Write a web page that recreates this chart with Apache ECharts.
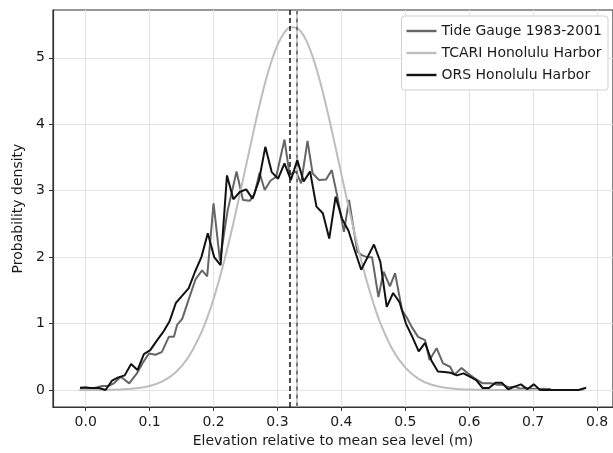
<!DOCTYPE html>
<html><head><meta charset="utf-8">
<script src="https://cdn.jsdelivr.net/npm/echarts@6/dist/echarts.min.js"></script>
<style>html,body{margin:0;padding:0;background:#fff}#c{width:613px;height:453px}</style>
</head><body><div id="c"></div>
<script>
// ---- data ----
const xTicks = [0.0,0.1,0.2,0.3,0.4,0.5,0.6,0.7,0.8];
const yTicks = [0,1,2,3,4,5];

// Tide Gauge 1983-2001 (x, density)
const gaugeX = [-0.009,0.0,0.009,0.018,0.026,0.035,0.044,0.055,0.068,0.08,0.09,0.099,0.109,0.119,0.13,0.138,0.143,0.151,0.161,0.172,0.182,0.19,0.2,0.21,0.222,0.236,0.246,0.257,0.264,0.272,0.28,0.289,0.298,0.311,0.319,0.329,0.337,0.347,0.355,0.365,0.376,0.385,0.394,0.404,0.412,0.425,0.432,0.44,0.448,0.458,0.466,0.476,0.484,0.495,0.503,0.51,0.52,0.531,0.538,0.549,0.559,0.57,0.577,0.588,0.598,0.608,0.621,0.634,0.644,0.653,0.662,0.671,0.68,0.689,0.698,0.707,0.716,0.728];
const gaugeY = [0.03,0.04,0.02,0.04,0.06,0.06,0.1,0.2,0.1,0.25,0.42,0.55,0.53,0.57,0.8,0.8,0.98,1.07,1.36,1.67,1.8,1.71,2.81,1.95,2.7,3.29,2.86,2.85,2.95,3.27,3.01,3.15,3.21,3.77,3.24,3.29,3.11,3.75,3.26,3.16,3.17,3.31,2.9,2.38,2.86,2.08,2.03,2.0,2.0,1.4,1.78,1.56,1.76,1.2,1.08,0.95,0.8,0.75,0.45,0.63,0.4,0.35,0.23,0.33,0.25,0.18,0.1,0.1,0.08,0.08,0.04,0.05,0.02,0.03,0.02,0.01,0.02,0.01];

// TCARI Honolulu Harbor
const tcariX = [-0.01,0.02,0.04,0.06,0.08,0.10,0.12,0.14,0.16,0.18,0.19,0.20,0.21,0.22,0.23,0.24,0.25,0.26,0.27,0.28,0.29,0.30,0.31,0.32,0.33,0.34,0.35,0.36,0.37,0.38,0.39,0.40,0.41,0.42,0.43,0.44,0.45,0.46,0.48,0.50,0.52,0.54,0.56,0.58,0.60,0.62,0.66,0.70,0.74,0.78];
const tcariY = [0,0,0.004,0.01,0.026,0.06,0.129,0.259,0.485,0.845,1.085,1.37,1.70,2.07,2.47,2.90,3.34,3.78,4.21,4.60,4.93,5.19,5.37,5.46,5.45,5.35,5.15,4.87,4.52,4.12,3.69,3.25,2.81,2.39,1.99,1.63,1.31,1.03,0.61,0.336,0.172,0.082,0.036,0.015,0.006,0.002,0,0,0,0];

// ORS Honolulu Harbor
const orsX = [-0.009,0.001,0.011,0.021,0.031,0.041,0.051,0.061,0.071,0.081,0.091,0.101,0.111,0.121,0.131,0.141,0.151,0.161,0.171,0.181,0.191,0.201,0.211,0.221,0.231,0.241,0.251,0.261,0.271,0.281,0.291,0.301,0.311,0.321,0.331,0.341,0.351,0.361,0.371,0.381,0.391,0.401,0.411,0.421,0.431,0.441,0.451,0.461,0.471,0.481,0.491,0.501,0.511,0.521,0.531,0.541,0.551,0.561,0.571,0.581,0.591,0.601,0.611,0.621,0.631,0.641,0.651,0.661,0.671,0.681,0.691,0.701,0.711,0.721,0.731,0.741,0.751,0.761,0.771,0.783];
const orsY = [0.035,0.035,0.03,0.03,0.0,0.14,0.19,0.22,0.39,0.3,0.54,0.6,0.74,0.87,1.03,1.31,1.42,1.53,1.78,2.0,2.36,2.0,1.88,3.23,2.87,2.98,3.02,2.88,3.15,3.66,3.28,3.18,3.41,3.16,3.46,3.14,3.29,2.76,2.66,2.28,2.91,2.58,2.4,2.1,1.81,2.0,2.19,1.93,1.25,1.46,1.32,1.0,0.8,0.58,0.71,0.44,0.28,0.27,0.26,0.22,0.25,0.2,0.15,0.03,0.03,0.11,0.11,0.01,0.05,0.085,0.01,0.085,0.0,0.0,0.0,0.0,0.0,0.0,0.0,0.035];

// vertical mean lines
const meanORS = 0.316;
const meanGauge = 0.327;
const meanTCARI = 0.328;

const seriesNames = ['Tide Gauge 1983-2001','TCARI Honolulu Harbor','ORS Honolulu Harbor'];
const xName = 'Elevation relative to mean sea level (m)';
const yName = 'Probability density';

// ---- chart ----
const zip = (a,b) => a.map((v,i)=>[v,b[i]]);
const FONT = 'DejaVu Sans';
const chart = echarts.init(document.getElementById('c'), null, {renderer:'canvas'});
const vline = (x,color,offset) => ({
  type:'line', data:[], silent:true, z:10,
  markLine:{ silent:true, symbol:['none','none'], label:{show:false},
    lineStyle:{color:color,width:1.6,type:[5,3],dashOffset:offset||0},
    data:[{xAxis:x}] }
});
chart.setOption({
  animation:false,
  backgroundColor:'#fff',
  textStyle:{fontFamily:FONT},
  grid:{left:53, top:10, right:-5, bottom:46, show:true, borderColor:'#333', borderWidth:1.2, backgroundColor:'transparent'},
  legend:{
    orient:'vertical', right:5, top:16, padding:[7,6,7,5], itemGap:6,
    itemWidth:30, itemHeight:2.4, icon:'rect', backgroundColor:'rgba(255,255,255,0.85)',
    borderColor:'#d0d0d0', borderWidth:1, borderRadius:3,
    textStyle:{fontFamily:FONT, fontSize:14, color:'#1a1a1a', lineHeight:16},
    data:seriesNames
  },
  xAxis:{
    type:'value', min:-0.0512, max:0.825,
    name:xName, nameLocation:'middle', nameGap:24,
    nameTextStyle:{fontFamily:FONT, fontSize:14, color:'#1a1a1a'},
    axisLine:{show:true, onZero:false, lineStyle:{color:'#333', width:1.2}},
    axisTick:{show:true, length:4, customValues:xTicks, lineStyle:{color:'#333'}},
    axisLabel:{customValues:xTicks, fontFamily:FONT, fontSize:14, color:'#1a1a1a', margin:8, formatter:v=>v.toFixed(1)},
    splitLine:{show:true, lineStyle:{color:'#e3e3e3', width:1}}
  },
  yAxis:{
    type:'value', min:-0.256, max:5.72,
    name:yName, nameLocation:'middle', nameGap:28, nameRotate:90,
    nameTextStyle:{fontFamily:FONT, fontSize:14, color:'#1a1a1a'},
    axisLine:{show:true, onZero:false, lineStyle:{color:'#333', width:1.2}},
    axisTick:{show:true, length:4, customValues:yTicks, lineStyle:{color:'#333'}},
    axisLabel:{customValues:yTicks, fontFamily:FONT, fontSize:14, color:'#1a1a1a', margin:8},
    splitLine:{show:true, lineStyle:{color:'#e3e3e3', width:1}}
  },
  series:[
    {name:seriesNames[0], type:'line', data:zip(gaugeX,gaugeY), symbol:'none', showSymbol:false,
     lineStyle:{color:'#666', width:2}, itemStyle:{color:'#666'}, z:3},
    {name:seriesNames[1], type:'line', data:zip(tcariX,tcariY), symbol:'none', showSymbol:false, smooth:0.3,
     lineStyle:{color:'#bdbdbd', width:2}, itemStyle:{color:'#bdbdbd'}, z:4},
    {name:seriesNames[2], type:'line', data:zip(orsX,orsY), symbol:'none', showSymbol:false,
     lineStyle:{color:'#111', width:2}, itemStyle:{color:'#111'}, z:5},
    vline(meanORS,'#222',0),
    vline(meanGauge,'#555',0),
    vline(meanTCARI,'#bdbdbd',4)
  ]
});
</script></body></html>
